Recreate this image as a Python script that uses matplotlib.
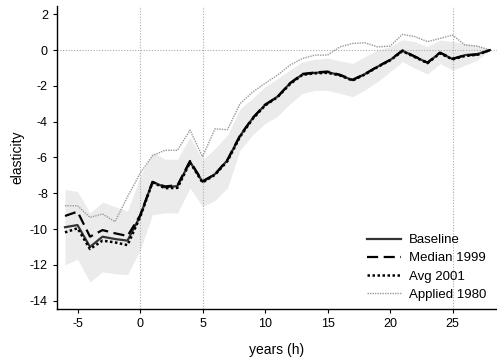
import matplotlib
matplotlib.use('Agg')
import matplotlib.pyplot as plt
import numpy as np

# horizon (years)
years = list(range(-6, 29))

baseline = [-9.9, -9.78, -11.0, -10.43, -10.56, -10.65, -9.3, -7.36, -7.67, -7.6, -6.24,
            -7.36, -6.93, -6.15, -4.8, -3.82, -3.07, -2.6, -1.86, -1.36, -1.27,
            -1.23, -1.4, -1.68, -1.34, -0.93, -0.56, -0.04, -0.37, -0.71, -0.15,
            -0.5, -0.28, -0.22, 0.0]
median_1999 = [-9.27, -9.03, -10.43, -10.06, -10.24, -10.39, -9.25, -7.38, -7.62, -7.55, -6.2,
               -7.33, -6.95, -6.12, -4.78, -3.8, -3.05, -2.62, -1.85, -1.33, -1.25,
               -1.2, -1.38, -1.66, -1.33, -0.92, -0.55, -0.02, -0.36, -0.7, -0.14,
               -0.48, -0.3, -0.25, 0.0]
avg_2001 = [-10.19, -9.96, -11.12, -10.65, -10.75, -10.9, -9.35, -7.4, -7.72, -7.7, -6.28,
            -7.4, -6.97, -6.2, -4.85, -3.86, -3.1, -2.63, -1.9, -1.38, -1.3,
            -1.27, -1.42, -1.7, -1.36, -0.95, -0.58, -0.06, -0.4, -0.73, -0.18,
            -0.52, -0.33, -0.26, 0.0]
applied_1980 = [-8.7, -8.7, -9.35, -9.16, -9.59, -8.2, -6.9, -5.9, -5.6, -5.6, -4.47,
                -5.96, -4.4, -4.45, -3.0, -2.35, -1.86, -1.4, -0.84, -0.47, -0.28,
                -0.28, 0.18, 0.37, 0.41, 0.18, 0.22, 0.88, 0.75, 0.47, 0.65,
                0.84, 0.28, 0.22, 0.0]
band_upper = [-7.8, -7.9, -9.1, -8.5, -8.75, -9.0, -7.1, -5.7, -6.1, -6.1, -4.85,
              -6.15, -5.5, -4.75, -3.3, -2.7, -2.05, -1.6, -1.12, -0.65, -0.52,
              -0.45, -0.6, -0.75, -0.37, 0.0, 0.19, 0.58, 0.47, 0.19, 0.56,
              0.47, 0.37, 0.28, 0.0]
band_lower = [-12.0, -11.7, -12.95, -12.4, -12.5, -12.55, -11.2, -9.2, -9.1, -9.1, -7.7,
              -8.75, -8.4, -7.7, -5.6, -4.75, -4.1, -3.7, -3.0, -2.42, -2.25,
              -2.25, -2.42, -2.6, -2.23, -1.77, -1.21, -0.65, -1.02, -1.34, -0.75,
              -1.12, -0.84, -0.56, 0.0]

plt.rcParams['font.family'] = ['Liberation Sans', 'DejaVu Sans']
plt.rcParams['axes.unicode_minus'] = False

fig = plt.figure(figsize=(4.97, 3.57), dpi=100)
ax = fig.add_axes([0.1147, 0.1345, 0.8853, 0.8485])

# confidence band
ax.fill_between(years, band_lower, band_upper, color='#ebebeb', linewidth=0, zorder=1)

# reference lines
for xv in [0, 5, 25]:
    ax.axvline(xv, color='#aaaaaa', linestyle=(0, (1, 1.5)), linewidth=0.8, zorder=2)
ax.axhline(0, color='#aaaaaa', linestyle=(0, (1, 1.5)), linewidth=0.8, zorder=2)

ax.plot(years, applied_1980, color='#999999', linestyle=(0, (1, 0.8)), linewidth=1.0,
        label='Applied 1980', zorder=3)
ax.plot(years, baseline, color='#333333', linestyle='-', linewidth=1.6,
        label='Baseline', zorder=4)
ax.plot(years, median_1999, color='black', linestyle=(0, (5, 2.5)), linewidth=1.6,
        label='Median 1999', zorder=5)
ax.plot(years, avg_2001, color='black', linestyle=(0, (1, 1)), linewidth=1.8,
        label='Avg 2001', zorder=6)

ax.set_xlim(-6.64, 28.56)
ax.set_ylim(-14.47, 2.46)
ax.set_xticks([-5, 0, 5, 10, 15, 20, 25])
ax.set_yticks(range(-14, 3, 2))
ax.tick_params(labelsize=9, length=3, width=0.8, color='black')

for s in ['top', 'right']:
    ax.spines[s].set_visible(False)
for s in ['left', 'bottom']:
    ax.spines[s].set_linewidth(1.0)

ax.set_xlabel('years (h)', fontsize=10, labelpad=9)
ax.set_ylabel('elasticity', fontsize=10, labelpad=4)

handles, labels = ax.get_legend_handles_labels()
order = ['Baseline', 'Median 1999', 'Avg 2001', 'Applied 1980']
hmap = dict(zip(labels, handles))
ax.legend([hmap[k] for k in order], order, loc='lower right', frameon=False,
          fontsize=9.5, handlelength=2.6, handletextpad=0.6, labelspacing=0.45,
          bbox_to_anchor=(1.003, -0.012))

fig.savefig('out.png', dpi=100)
